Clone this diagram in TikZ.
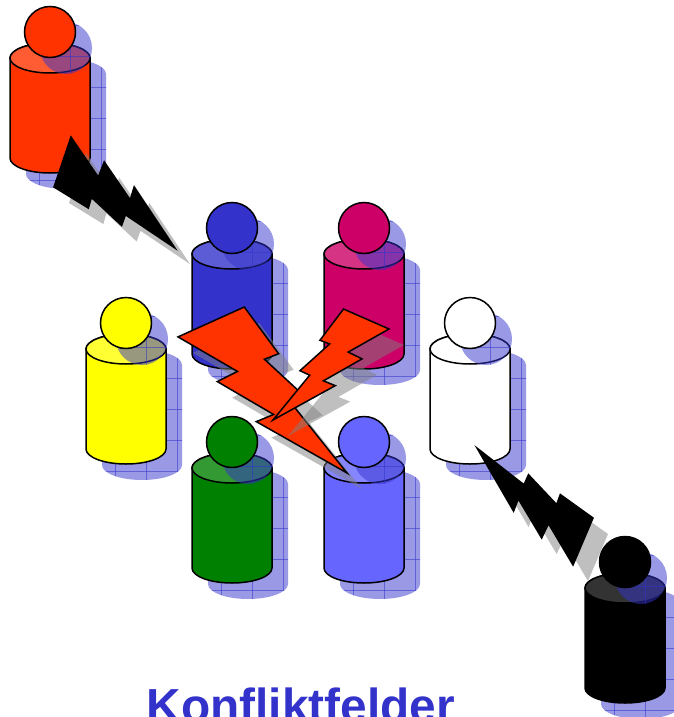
\documentclass[tikz,border=0pt]{standalone}
\usepackage{fontspec}
\setmainfont{Liberation Sans}

\definecolor{figred}{HTML}{FF3300}
\definecolor{figblue}{HTML}{3333CC}
\definecolor{figmagenta}{HTML}{CC0066}
\definecolor{figyellow}{HTML}{FFFF00}
\definecolor{figgreen}{HTML}{008000}
\definecolor{figlight}{HTML}{6666FF}
\definecolor{shadowblue}{HTML}{3333CC}
\definecolor{titleblue}{HTML}{3333CC}

\tikzstyle{outline}=[draw=black, line width=1.5pt]
\tikzstyle{shadowfill}=[fill=shadowblue, fill opacity=0.5]
\tikzstyle{gridline}=[draw=shadowblue, line width=0.7pt, draw opacity=0.55]
\tikzstyle{boltline}=[draw=black, line width=1.5pt]
\tikzstyle{boltshadow}=[fill=black!50, fill opacity=0.5]

% cylinder body: centre x, y of the top ellipse
\newcommand{\canpath}[2]{(#1-40,#2) -- (#1-40,#2+100) arc[start angle=180, end angle=0, x radius=40, y radius=15] -- (#1+40,#2) arc[start angle=0, end angle=-180, x radius=40, y radius=15] -- cycle}

% hatched blue shadow, used inside a clip
\newcommand{\shadowgrid}[2]{%
  \fill[shadowfill] (#1-70,#2-60) rectangle (#1+70,#2+130);
  \foreach \gx in {-58,-27,4,35}
    \draw[gridline] (#1+\gx,#2-60) -- (#1+\gx,#2+130);
  \foreach \gy in {-49,-18,13,44,75,106}
    \draw[gridline] (#1-70,#2+\gy) -- (#1+70,#2+\gy);}

% one person: body, top, head and their shadows
\newcommand{\person}[3]{%
  \begin{scope}[shift={(16,16)}]
    \clip \canpath{#1}{#2};
    \shadowgrid{#1}{#2}
  \end{scope}
  \filldraw[outline, fill=#3] \canpath{#1}{#2};
  \filldraw[outline, fill=#3!80!white] (#1,#2) ellipse[x radius=40, y radius=15];
  \begin{scope}[shift={(16,16)}]
    \clip (#1,#2-26) circle[radius=26];
    \shadowgrid{#1}{#2}
  \end{scope}
  \filldraw[outline, fill=#3] (#1,#2-26) circle[radius=25.5];}

% lightning bolt in a 100x100 frame
\newcommand{\boltpath}{(39.22,0) -- (59.54,28.15) -- (51.16,31.47) -- (76.75,55.59) -- (68.37,59.62) -- (100,100) -- (46.35,69.05) -- (56.58,64.75) -- (23.25,44.93) -- (35.19,38.81) -- (0,18.01) -- cycle}

\newcommand{\bolt}[4]{%
  \begin{scope}[shift={(15,16)}, shift={#2}, x={#3}, y={#4}]
    \fill[boltshadow] \boltpath;
  \end{scope}
  \begin{scope}[shift={#2}, x={#3}, y={#4}]
    \filldraw[boltline, fill=#1] \boltpath;
  \end{scope}}

\begin{document}
\begin{tikzpicture}[x=1pt, y=-1pt]
  \useasboundingbox (0,0) rectangle (673,717);

  % people
  \person{50}{58}{figred}
  \person{232}{254}{figblue}
  \person{364}{254}{figmagenta}
  \person{126}{349}{figyellow}
  \person{470}{349}{white}
  \person{232}{468}{figgreen}
  \person{364}{468}{figlight}

  % lightning
  \bolt{black}{(50.25,139.3)}{(0.0955pt,-1.216pt)}{(1.152pt,0.128pt)}
  \bolt{figred}{(178,307)}{(1.69pt,0pt)}{(0pt,-1.66pt)}
  \bolt{figred}{(389,309)}{(-1.16pt,0pt)}{(0pt,-1.11pt)}
  \bolt{black}{(593.7,564.6)}{(-0.0176pt,1.188pt)}{(-1.149pt,-0.023pt)}

  \person{625}{588}{black}

  \node[anchor=base west, inner sep=0pt, text=titleblue,
        font=\bfseries\fontsize{47.8pt}{52pt}\selectfont] (title) at (146.5,722) {Konfliktfelder};
\end{tikzpicture}
\end{document}
